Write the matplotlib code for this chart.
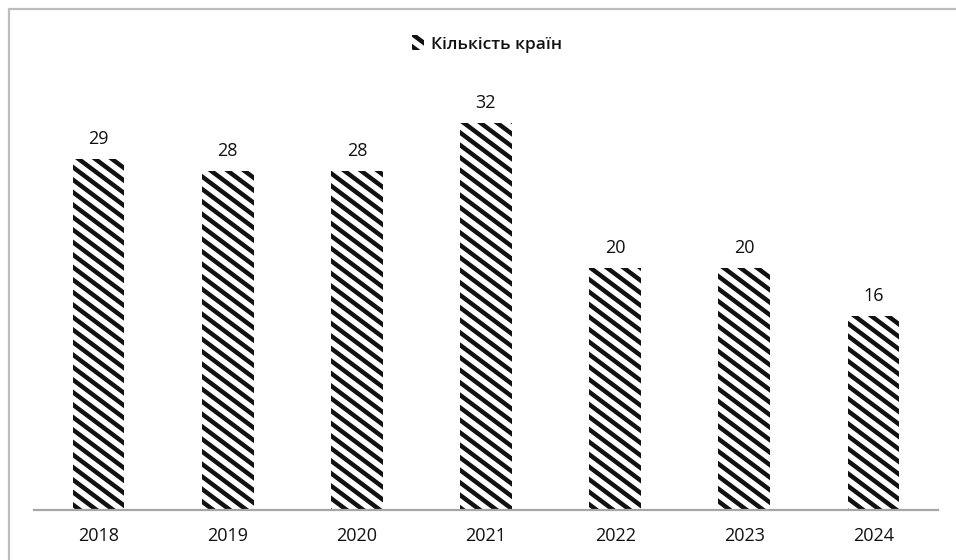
import matplotlib
matplotlib.use("Agg")
import numpy as np
import matplotlib.pyplot as plt
from matplotlib import hatch as mhatch
from matplotlib.path import Path
from matplotlib.patches import Rectangle, Patch

years = ["2018", "2019", "2020", "2021", "2022", "2023", "2024"]
countries = [29, 28, 28, 32, 20, 20, 16]
series_name = "Кількість країн"


class SlantHatch(mhatch.HatchPatternBase):
    """'\\' hatch drawn at a shallower angle (slope 6/8) with wider spacing."""
    RISE, RUN = 6, 8

    def __init__(self, hatch, density):
        self.num_lines = (self.RISE + self.RUN + 3) if hatch.count("\\") else 0
        self.num_vertices = self.num_lines * 2

    def set_vertices_and_codes(self, vertices, codes):
        m = self.RISE / self.RUN
        c = np.arange(-1, self.num_lines - 1) / self.RUN
        x0, x1 = -0.2, 1.2
        vertices[0::2, 0] = x0
        vertices[0::2, 1] = c - m * x0
        vertices[1::2, 0] = x1
        vertices[1::2, 1] = c - m * x1
        codes[0::2] = Path.MOVETO
        codes[1::2] = Path.LINETO


mhatch._hatch_types = [SlantHatch if t is mhatch.SouthEastHatch else t
                       for t in mhatch._hatch_types]

plt.rcParams["font.family"] = ["Open Sans", "DejaVu Sans"]
plt.rcParams["hatch.linewidth"] = 3.2

W, H = 956, 560
fig = plt.figure(figsize=(W / 100, H / 100), dpi=100)

# outer frame of the chart area (runs off the right and bottom edges)
fig.patches.append(Rectangle((9 / W, -0.05), 1.1, (H - 9) / H + 0.05,
                             transform=fig.transFigure, fill=False,
                             edgecolor="#bdbdbd", linewidth=1.6, clip_on=False))

ax = fig.add_axes([34 / W, 50 / H, (938 - 34) / W, 423.5 / H])
x = range(len(years))
bars = ax.bar(x, countries, width=0.4, facecolor="white", edgecolor="#111111",
              hatch="\\", linewidth=0)

for xi, v in zip(x, countries):
    ax.annotate(str(v), (xi, v), xytext=(0, 8), textcoords="offset points",
                ha="center", va="bottom", fontsize=13, color="#111111")

ax.set_xlim(-0.5, len(years) - 0.5)
ax.set_ylim(0, 35)
ax.set_xticks(list(x))
ax.set_xticklabels(years, fontsize=13, color="#111111")
ax.tick_params(axis="x", length=0, pad=12)
ax.set_yticks([])
for s in ("top", "right", "left"):
    ax.spines[s].set_visible(False)
ax.spines["bottom"].set_color("#a6a6a6")
ax.spines["bottom"].set_linewidth(1.6)

handle = Patch(facecolor="white", edgecolor="#111111", linewidth=0,
               hatch="\\", label=series_name)
fig.legend(handles=[handle], loc="center", bbox_to_anchor=(487 / W, 1 - 44 / H),
           frameon=False, handlelength=0.7, handleheight=0.9, handletextpad=0.4,
           prop={"size": 12.5, "weight": "semibold"}, labelcolor="#111111")

fig.savefig("out.png", dpi=100)
